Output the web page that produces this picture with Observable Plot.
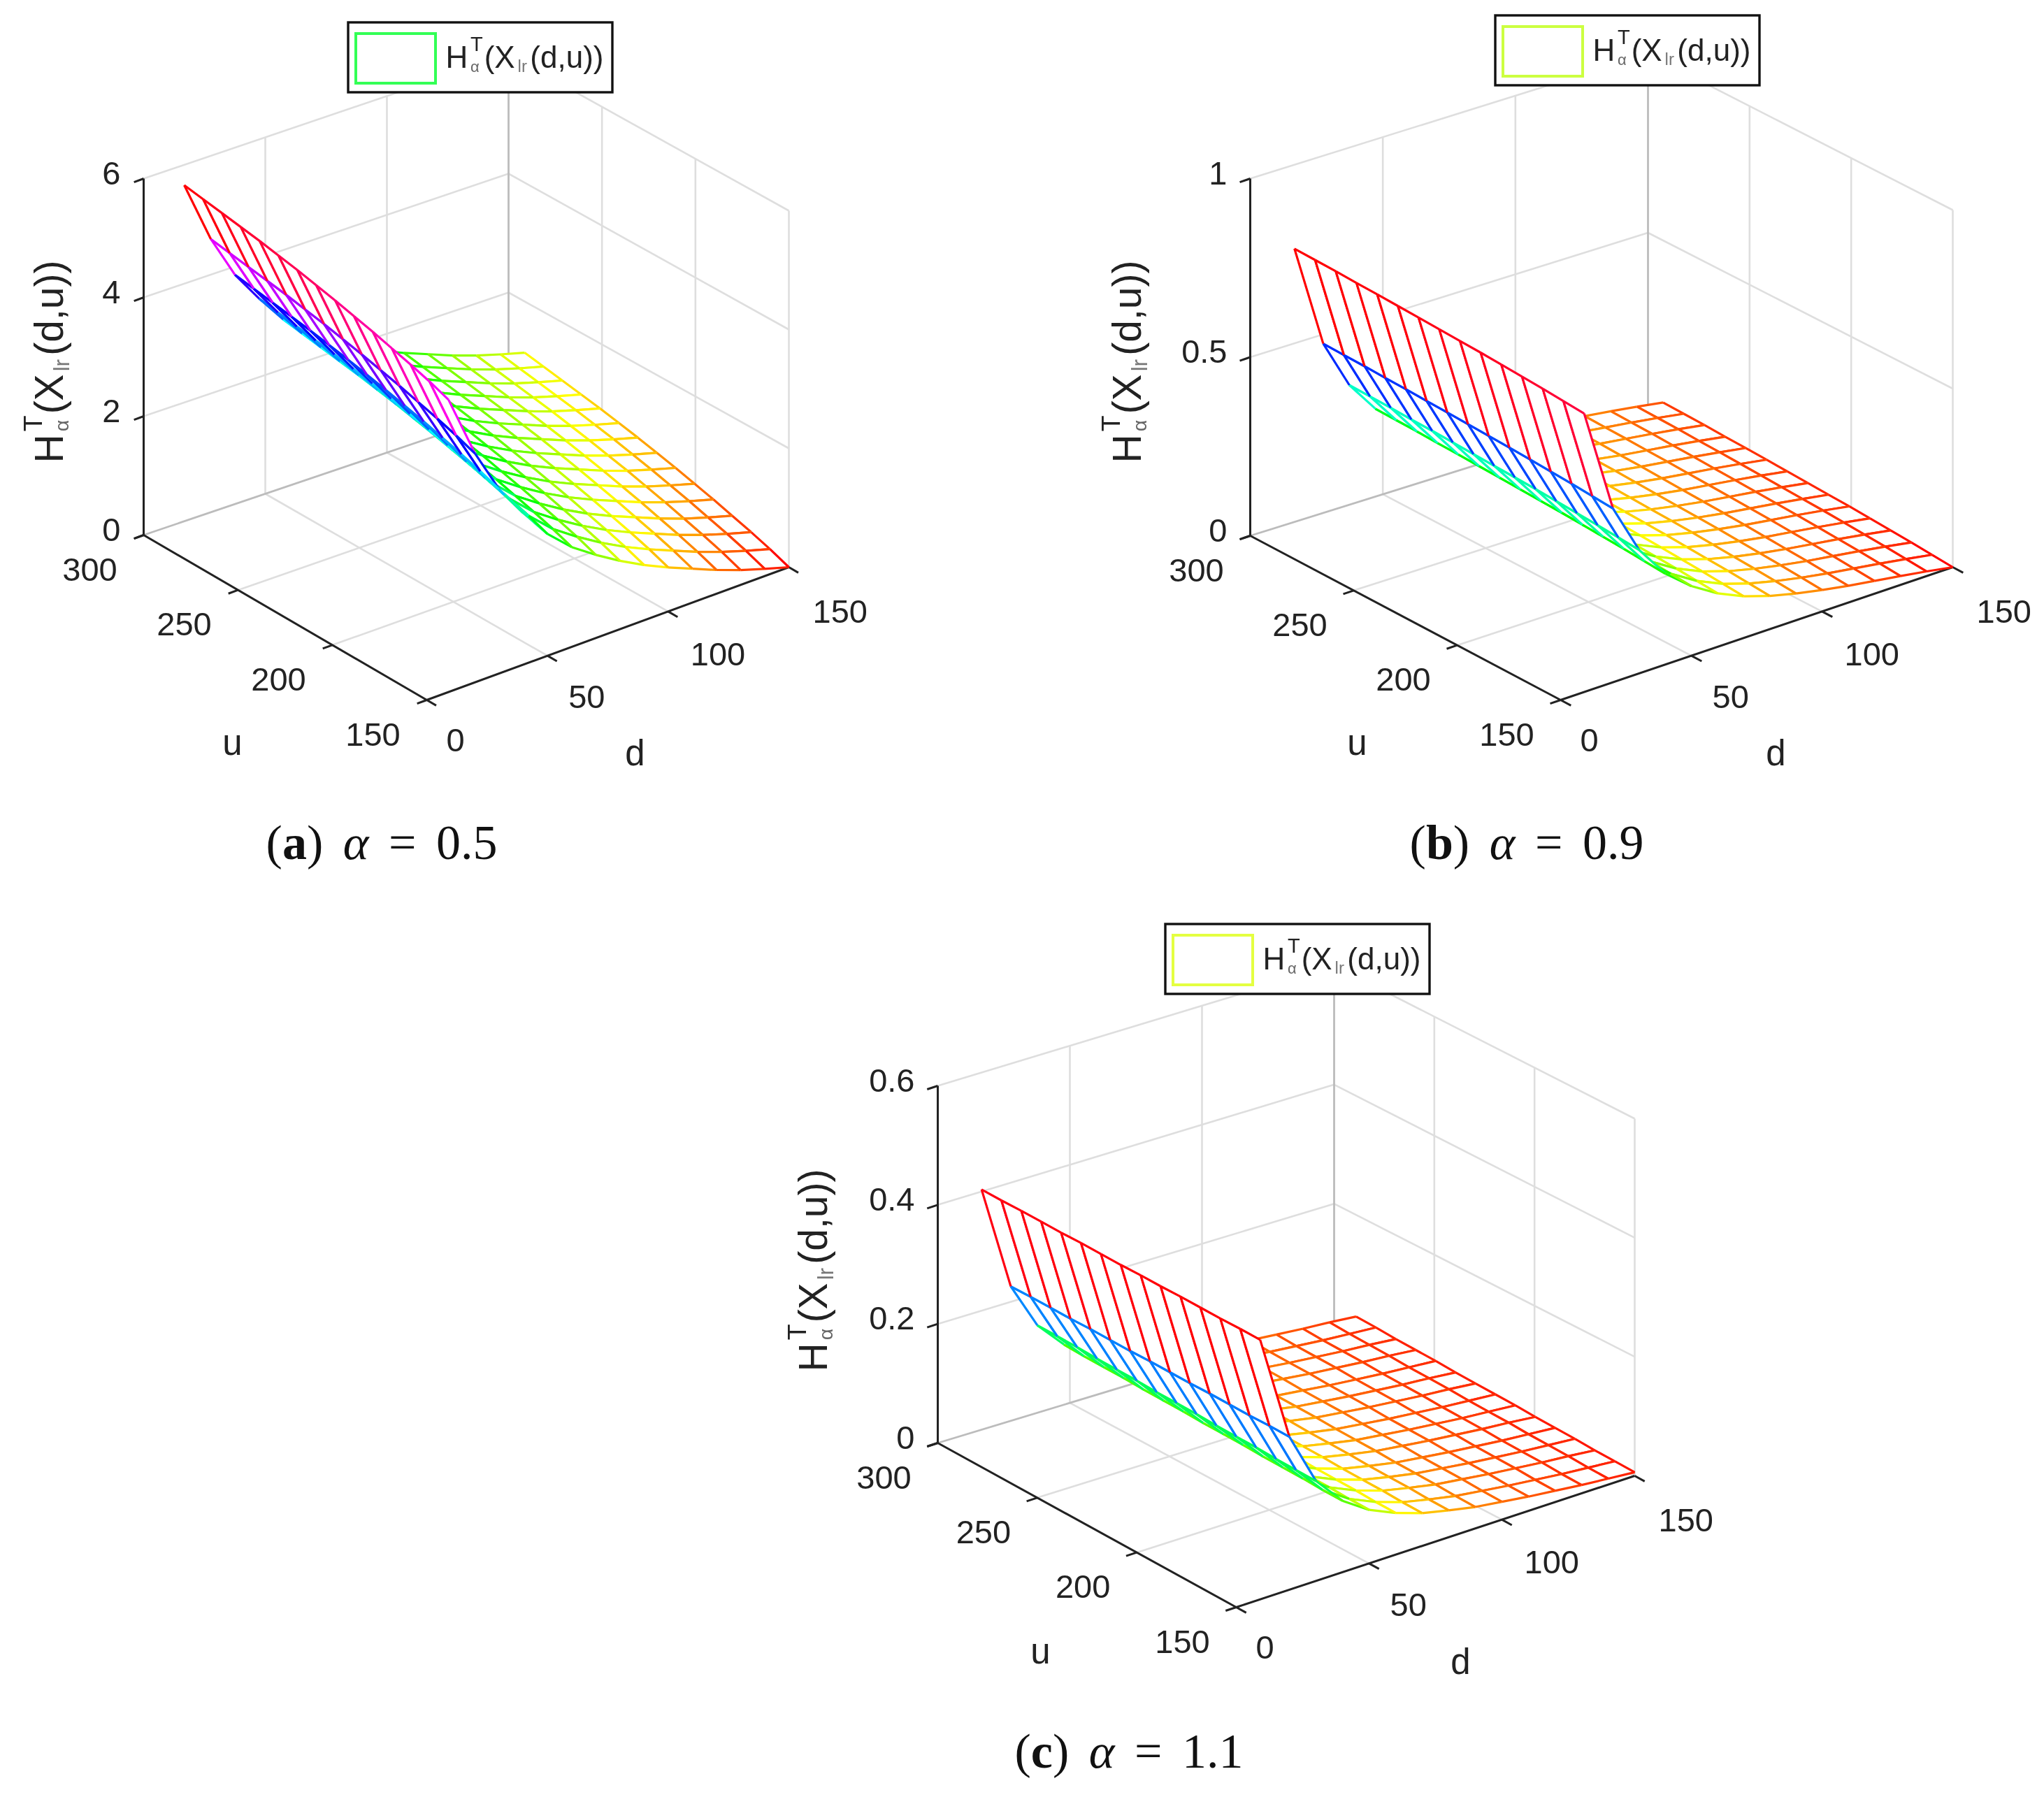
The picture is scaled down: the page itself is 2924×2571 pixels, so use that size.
<!DOCTYPE html>
<html><head><meta charset="utf-8">
<script src="https://cdn.jsdelivr.net/npm/d3@7"></script>
<script src="https://cdn.jsdelivr.net/npm/@observablehq/plot@0.6"></script>
<style>
html,body{margin:0;background:#fff}
#page{position:relative;width:2924px;height:2571px;overflow:hidden}
#page svg{display:block;filter:blur(0.7px)}
.cap{position:absolute;transform:translateX(-50%);font-family:"Liberation Serif",serif;font-size:70px;word-spacing:11px;color:#111;white-space:nowrap}
.cap i{font-style:italic}
</style></head><body><div id="page"></div>
<script>
const dValues=[9,20,30,40,50,60,70,80,90,100,110,120,130,140,150];
const uValues=[150,160,170,180,190,200,210,220,230,240,250,260,270,280,290];
const dTicks=[0,50,100,150];
const uTicks=[150,200,250,300];

// Surface heights: one row per d, one column per u.
const surfaceA=[
[4.92,5.04,5.14,5.23,5.32,5.40,5.48,5.55,5.62,5.68,5.74,5.79,5.84,5.89,5.94],
[3.85,3.97,4.07,4.16,4.25,4.33,4.41,4.48,4.55,4.61,4.67,4.72,4.77,4.82,4.87],
[3.10,3.22,3.32,3.41,3.50,3.58,3.66,3.73,3.80,3.86,3.92,3.97,4.02,4.07,4.12],
[2.55,2.67,2.77,2.86,2.95,3.03,3.11,3.18,3.25,3.31,3.37,3.42,3.47,3.52,3.57],
[2.05,2.17,2.27,2.36,2.45,2.53,2.61,2.68,2.75,2.81,2.87,2.92,2.97,3.02,3.07],
[1.68,1.80,1.90,1.99,2.08,2.16,2.24,2.31,2.38,2.44,2.50,2.55,2.60,2.65,2.70],
[1.40,1.52,1.62,1.71,1.80,1.88,1.96,2.03,2.10,2.16,2.22,2.27,2.32,2.37,2.42],
[1.15,1.27,1.37,1.46,1.55,1.63,1.71,1.78,1.85,1.91,1.97,2.02,2.07,2.12,2.17],
[.93,1.05,1.15,1.24,1.33,1.41,1.49,1.56,1.63,1.69,1.75,1.80,1.85,1.90,1.95],
[.74,.86,.96,1.05,1.14,1.22,1.30,1.37,1.44,1.50,1.56,1.61,1.66,1.71,1.76],
[.57,.69,.79,.88,.97,1.05,1.13,1.20,1.27,1.33,1.39,1.44,1.49,1.54,1.59],
[.40,.52,.62,.71,.80,.88,.96,1.03,1.10,1.16,1.22,1.27,1.32,1.37,1.42],
[.25,.37,.47,.56,.65,.73,.81,.88,.95,1.01,1.07,1.12,1.17,1.22,1.27],
[.12,.24,.34,.43,.52,.60,.68,.75,.82,.88,.94,.99,1.04,1.09,1.14],
[0,.12,.22,.31,.40,.48,.56,.63,.70,.76,.82,.87,.92,.97,1.02]];
const surfaceB=[
[.780,.784,.788,.791,.794,.797,.799,.801,.803,.805,.807,.808,.810,.811,.812],
[.487,.491,.495,.498,.501,.504,.506,.508,.510,.512,.514,.515,.517,.518,.519],
[.346,.350,.354,.357,.360,.363,.365,.367,.369,.371,.373,.374,.376,.377,.378],
[.255,.259,.263,.266,.269,.272,.274,.276,.278,.280,.282,.283,.285,.286,.287],
[.195,.199,.203,.206,.209,.212,.214,.216,.218,.220,.222,.223,.225,.226,.227],
[.150,.154,.158,.161,.164,.167,.169,.171,.173,.175,.177,.178,.180,.181,.182],
[.117,.121,.125,.128,.131,.134,.136,.138,.140,.142,.144,.145,.147,.148,.149],
[.093,.097,.101,.104,.107,.110,.112,.114,.116,.118,.120,.121,.123,.124,.125],
[.075,.079,.083,.086,.089,.092,.094,.096,.098,.100,.102,.103,.105,.106,.107],
[.060,.064,.068,.071,.074,.077,.079,.081,.083,.085,.087,.088,.090,.091,.092],
[.047,.051,.055,.058,.061,.064,.066,.068,.070,.072,.074,.075,.077,.078,.079],
[.036,.040,.044,.047,.050,.053,.055,.057,.059,.061,.063,.064,.066,.067,.068],
[.025,.029,.033,.036,.039,.042,.044,.046,.048,.050,.052,.053,.055,.056,.057],
[.013,.017,.021,.024,.027,.030,.032,.034,.036,.038,.040,.041,.043,.044,.045],
[0,.004,.008,.011,.014,.017,.019,.021,.023,.025,.027,.028,.030,.031,.032]];
const surfaceC=[
[.436,.436,.435,.435,.435,.434,.434,.433,.433,.433,.432,.432,.432,.431,.431],
[.257,.257,.256,.256,.256,.255,.255,.255,.254,.254,.254,.253,.253,.253,.252],
[.168,.168,.168,.169,.169,.169,.170,.170,.170,.171,.171,.171,.172,.172,.172],
[.120,.120,.121,.121,.121,.122,.122,.122,.123,.123,.123,.124,.124,.124,.125],
[.090,.090,.091,.091,.091,.092,.092,.092,.093,.093,.093,.094,.094,.094,.095],
[.070,.070,.071,.071,.071,.072,.072,.072,.073,.073,.073,.074,.074,.074,.075],
[.055,.055,.056,.056,.056,.057,.057,.057,.058,.058,.058,.059,.059,.059,.060],
[.045,.045,.046,.046,.046,.047,.047,.047,.048,.048,.048,.049,.049,.049,.050],
[.036,.036,.037,.037,.037,.038,.038,.038,.039,.039,.039,.040,.040,.040,.041],
[.030,.030,.031,.031,.031,.032,.032,.032,.033,.033,.033,.034,.034,.034,.035],
[.024,.024,.025,.025,.025,.026,.026,.026,.027,.027,.027,.028,.028,.028,.029],
[.019,.019,.020,.020,.020,.021,.021,.021,.022,.022,.022,.023,.023,.023,.024],
[.014,.014,.015,.015,.015,.016,.016,.016,.017,.017,.017,.018,.018,.018,.019],
[.010,.010,.011,.011,.011,.012,.012,.012,.013,.013,.013,.014,.014,.014,.015],
[.006,.006,.006,.007,.007,.007,.008,.008,.008,.008,.009,.009,.009,.010,.010]];
const zTicksA=[0,2,4,6];
const zTicksB=[0,0.5,1];
const zTicksC=[0,0.2,0.4,0.6];
const swatchColors=["#33ff55","#ccff40","#e4ff40"];
const captions=["a","b","c"];
const alphas=["0.5","0.9","1.1"];

// The three views: where the box corners of each panel fall on the page.
const views=[
 {L:[205,765],F:[610,1001],R:[1128,811],B:[727,588],zH:510,zTop:6,zTicks:zTicksA,table:surfaceA,lab:[71,662],legend:[498,32],u:[332,1063],d:[908,1078],cap:[546,1226]},
 {L:[1788,766],F:[2232,1001],R:[2793,811],B:[2357,588],zH:511,zTop:1,zTicks:zTicksB,table:surfaceB,lab:[1613,662],legend:[2139,22],u:[1941,1063],d:[2540,1078],cap:[2184,1226]},
 {L:[1341,2064],F:[1768,2299],R:[2338,2111],B:[1908,1892],zH:511,zTop:0.6,zTicks:zTicksC,table:surfaceC,lab:[1164,1962],legend:[1667,1322],u:[1488,2363],d:[2089,2378],cap:[1615,2526]}
];
const FONT='"Liberation Sans",Arial,sans-serif', INK="#222222";

// Mesh projection, in the box's own axes.
function projector(v){
  return (d,u,z)=>{
    const a=d/150,b=(u-150)/150;
    return {x:v.F[0]+a*(v.R[0]-v.F[0])+b*(v.L[0]-v.F[0]),
            y:v.F[1]+a*(v.R[1]-v.F[1])+b*(v.L[1]-v.F[1])-z/v.zTop*v.zH};
  };
}
// Box projection: the drawn back corner sits slightly off the parallelogram.
function boxProjector(v){
  return (d,u,z)=>{
    const a=d/150,b=(u-150)/150;
    const w=(i)=>v.F[i]*(1-a)*(1-b)+v.R[i]*a*(1-b)+v.L[i]*(1-a)*b+v.B[i]*a*b;
    return {x:w(0),y:w(1)-z/v.zTop*v.zH};
  };
}
const seg=(p,q,extra={})=>({x1:p.x,y1:p.y,x2:q.x,y2:q.y,...extra});
const links=(rows,o)=>Plot.link(rows,{x1:"x1",y1:"y1",x2:"x2",y2:"y2",...o});
const txt=(t,x,y,o={})=>Plot.text([{t,x,y}],{x:"x",y:"y",text:"t",fontFamily:FONT,fill:INK,fontSize:47,...o});

function formula(x0,y0,S,rotated,k){
  const pieces=[["H",0,0,1,INK],["T",.74,.42,.66,INK],["α",.74,-.3,.5,"#666"],["(X",1.15,0,1,INK],
                ["lr",2.15,-.3,.55,"#777"],["(d,u))",2.52,0,1,INK]];
  return pieces.map(([t,a,r,s,c])=>txt(t,
     rotated?x0-r*S:x0+a*S*k, rotated?y0-a*S*k:y0-r*S,
     {fontSize:S*s,fill:c,textAnchor:"start",lineAnchor:"middle",rotate:rotated?-90:0}));
}

function panelMarks(v,vi){
  const P=projector(v), X=boxProjector(v), m=[];
  const grid=[],back=[];
  for(const z of v.zTicks){ if(z===0) continue;
    grid.push(seg(X(0,300,z),X(150,300,z)),seg(X(150,300,z),X(150,150,z)));}
  for(const d of [50,100]){
    grid.push(seg(X(d,300,0),X(d,300,v.zTop)),seg(X(d,150,0),X(d,300,0)));}
  for(const u of [200,250]){
    grid.push(seg(X(150,u,0),X(150,u,v.zTop)),seg(X(0,u,0),X(150,u,0)));}
  grid.push(seg(X(150,150,0),X(150,150,v.zTop)),seg(X(150,300,0),X(150,150,0)));
  back.push(seg(X(150,300,0),X(150,300,v.zTop)),seg(X(0,300,0),X(150,300,0)));
  m.push(links(grid,{stroke:"#dedede",strokeWidth:2.6}));
  m.push(links(back,{stroke:"#bcbcbc",strokeWidth:2.8}));

  const axes=[seg(P(0,300,0),P(0,300,v.zTop)),seg(P(0,300,0),P(0,150,0)),seg(P(0,150,0),P(150,150,0))];
  for(const z of v.zTicks) axes.push(seg(P(0,300,z),P(-4,300,z)));
  for(const u of uTicks) axes.push(seg(P(0,u,0),P(-4,u,0)));
  for(const d of dTicks) axes.push(seg(P(d,150,0),P(d,145,0)));
  m.push(links(axes,{stroke:"#222222",strokeWidth:3}));

  const zmax=d3.max(v.table.flat());
  const nd=dValues.length,nu=uValues.length;
  const Q=(i,j)=>P(dValues[i],uValues[j],v.table[i][j]);
  const V=(i,j)=>v.table[i][j]/zmax;
  // Painter's order: farthest cell first, so the white cell faces hide what lies behind.
  for(let i=nd-2;i>=0;i--) for(let j=nu-2;j>=0;j--){
    const a=Q(i,j),b=Q(i+1,j),c=Q(i+1,j+1),e=Q(i,j+1);
    m.push(Plot.line([a,b,c,e],{x:"x",y:"y",fill:"white",stroke:"none"}));
    m.push(links([
      seg(a,b,{v:V(i,j)}),seg(a,e,{v:V(i,j)}),
      seg(b,c,{v:V(i+1,j)}),seg(e,c,{v:V(i,j+1)})
    ],{stroke:"v",strokeWidth:3.2}));
  }

  for(const z of v.zTicks){const p=P(0,300,z);
    m.push(txt(String(z),p.x-33,p.y-7,{textAnchor:"end"}));}
  for(const u of uTicks){const p=P(0,u,0);
    m.push(txt(String(u),p.x-77,p.y+50));}
  for(const d of dTicks){const p=P(d,150,0);
    m.push(txt(String(d),p.x+28+d/150*6,p.y+58+d/150*6,{textAnchor:"start"}));}
  m.push(txt("u",v.u[0],v.u[1],{fontSize:51}));
  m.push(txt("d",v.d[0],v.d[1],{fontSize:51}));
  m.push(...formula(v.lab[0],v.lab[1],57,true,1.07));

  const [lx,ly]=v.legend;
  m.push(Plot.rect([{x1:lx,x2:lx+378,y1:ly,y2:ly+100}],{x1:"x1",x2:"x2",y1:"y1",y2:"y2",fill:"white",stroke:"#111",strokeWidth:3.4}));
  m.push(Plot.rect([{x1:lx+11,x2:lx+125,y1:ly+16,y2:ly+87}],{x1:"x1",x2:"x2",y1:"y1",y2:"y2",fill:"white",stroke:swatchColors[vi],strokeWidth:4}));
  m.push(...formula(lx+139,ly+50,44,false,1.09));
  return m;
}

const chart=Plot.plot({
  width:2924,height:2571,margin:0,
  x:{type:"linear",domain:[0,2924],range:[0,2924],axis:null},
  y:{type:"linear",domain:[0,2571],range:[0,2571],axis:null},
  color:{type:"linear",domain:[0,1],interpolate:t=>d3.hsl(t*360,1,.5).formatHex()},
  marks:views.flatMap(panelMarks)
});
const page=document.getElementById("page");
page.appendChild(chart);
views.forEach((v,i)=>{
  const c=document.createElement("div");
  c.className="cap";
  c.style.left=v.cap[0]+"px"; c.style.top=(v.cap[1]-60)+"px";
  c.innerHTML=`(<b>${captions[i]}</b>) <i>α</i> = ${alphas[i]}`;
  page.appendChild(c);
});
</script></body></html>
